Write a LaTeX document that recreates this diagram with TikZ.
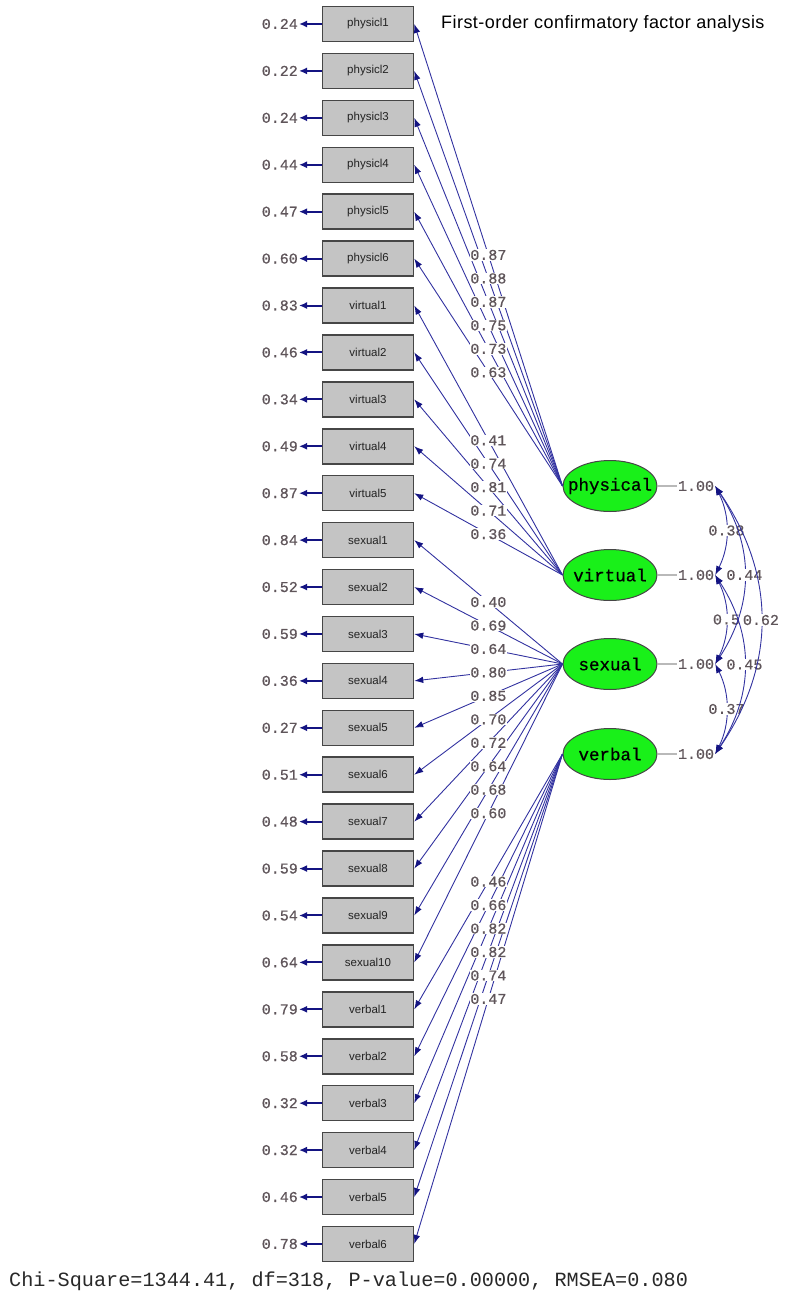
\documentclass[tikz,border=0pt]{standalone}
\usepackage{fontspec}
\setmainfont{Liberation Sans}
\newfontfamily\monof{Liberation Mono}
\newfontfamily\numf[FakeBold=0.6]{Liberation Mono}
\newfontfamily\titlef[LetterSpace=2.5]{Liberation Sans}
\usetikzlibrary{arrows.meta,shapes.geometric}
\definecolor{navy}{RGB}{20,20,130}
\definecolor{lineblue}{RGB}{50,50,160}
\definecolor{numcol}{RGB}{95,85,90}
\definecolor{boxgray}{RGB}{196,196,196}
\definecolor{boxedge}{RGB}{70,70,70}
\definecolor{latgreen}{RGB}{25,240,25}
\definecolor{chicol}{RGB}{40,40,40}
\definecolor{boxtext}{RGB}{35,35,35}
\newcommand{\zbox}[1]{\makebox[0pt]{#1}}
\begin{document}
\begin{tikzpicture}[x=1pt,y=-1pt,
  obs/.style={draw=boxedge, line width=1.5pt, fill=boxgray, minimum width=91pt, minimum height=35pt, inner sep=0pt, text=boxtext, font=\fontsize{11.5}{12}\selectfont},
  lat/.style={ellipse, draw=boxedge, line width=1pt, fill=latgreen, minimum width=94pt, minimum height=51pt, inner sep=0pt, font=\numf\fontsize{17.5}{18}\selectfont},
  num/.style={text=numcol, font=\numf\fontsize{15}{15}\selectfont, inner sep=1pt},
  lab/.style={num, fill=white, inner sep=0.6pt},
  load/.style={draw=lineblue, line width=0.9pt, -{Latex[length=9pt,width=6.5pt,color=navy]}},
  err/.style={draw=navy, line width=2pt, -{Latex[length=8pt,width=7pt]}},
  cov/.style={draw=lineblue, line width=0.9pt, {Latex[length=9pt,width=6.5pt,color=navy]}-{Latex[length=9pt,width=6.5pt,color=navy]}},
  vline/.style={draw=gray!55, line width=1.3pt}]
\useasboundingbox (0,0) rectangle (796,1313);

% latent variables
\node[lat] (F1) at (610,486) {\zbox{physical}};
\node[lat] (F2) at (610,575) {\zbox{virtual}};
\node[lat] (F3) at (610,664) {\zbox{sexual}};
\node[lat] (F4) at (610,754) {\zbox{verbal}};

% variance labels
\foreach \k/\y in {1/486,2/575,3/664,4/754}{
  \node[num] (u\k) at (696,\y) {1.00};
  \draw[vline] (F\k.east) -- (u\k.west);
}

% observed variables, errors and loadings
\foreach \i/\t/\e/\f in {
  0/physicl1/0.24/F1, 1/physicl2/0.22/F1, 2/physicl3/0.24/F1, 3/physicl4/0.44/F1, 4/physicl5/0.47/F1, 5/physicl6/0.60/F1,
  6/virtual1/0.83/F2, 7/virtual2/0.46/F2, 8/virtual3/0.34/F2, 9/virtual4/0.49/F2, 10/virtual5/0.87/F2,
  11/sexual1/0.84/F3, 12/sexual2/0.52/F3, 13/sexual3/0.59/F3, 14/sexual4/0.36/F3, 15/sexual5/0.27/F3,
  16/sexual6/0.51/F3, 17/sexual7/0.48/F3, 18/sexual8/0.59/F3, 19/sexual9/0.54/F3, 20/sexual10/0.64/F3,
  21/verbal1/0.79/F4, 22/verbal2/0.58/F4, 23/verbal3/0.32/F4, 24/verbal4/0.32/F4, 25/verbal5/0.46/F4, 26/verbal6/0.78/F4}{
  \node[obs] (o\i) at (368,{24+46.92*\i}) {\t};
  \node[num, anchor=east] (e\i) at (299,{24+46.92*\i}) {\e};
  \draw[err] (o\i.west) -- (e\i.east);
  \draw[load] (\f.west) -- (o\i.east);
}

% loading labels
\foreach \i/\f/\l in {
  0/F1/0.87, 1/F1/0.88, 2/F1/0.87, 3/F1/0.75, 4/F1/0.73, 5/F1/0.63,
  6/F2/0.41, 7/F2/0.74, 8/F2/0.81, 9/F2/0.71, 10/F2/0.36,
  11/F3/0.40, 12/F3/0.69, 13/F3/0.64, 14/F3/0.80, 15/F3/0.85, 16/F3/0.70, 17/F3/0.72, 18/F3/0.64, 19/F3/0.68, 20/F3/0.60,
  21/F4/0.46, 22/F4/0.66, 23/F4/0.82, 24/F4/0.82, 25/F4/0.74, 26/F4/0.47}{
  \path (\f.west) -- node[lab,pos=0.5] {\l} (o\i.east);
}

% covariances
\draw[cov] (u1.east) .. controls +(15,30) and +(15,-30) .. (u2.east) node[lab,pos=0.5] {0.38};
\draw[cov] (u3.east) .. controls +(15,30) and +(15,-30) .. (u4.east) node[lab,pos=0.5] {0.37};
\draw[cov] (u2.east) .. controls +(15,30) and +(15,-30) .. (u3.east) node[lab,pos=0.5] {0.5};
\draw[cov] (u1.east) .. controls +(39,60) and +(39,-60) .. (u3.east) node[lab,pos=0.5] {0.44};
\draw[cov] (u2.east) .. controls +(39,60) and +(39,-60) .. (u4.east) node[lab,pos=0.5] {0.45};
\draw[cov] (u1.east) .. controls +(61,89) and +(61,-89) .. (u4.east) node[lab,pos=0.5] {0.62};

% texts
\node[anchor=west, font=\titlef\fontsize{18}{20}\selectfont, inner sep=0pt] (title) at (441,24) {First-order confirmatory factor analysis};
\node[anchor=west, text=chicol, font=\monof\fontsize{20.2}{21}\selectfont, inner sep=0pt] (chi) at (9,1281) {Chi-Square=1344.41, df=318, P-value=0.00000, RMSEA=0.080};
\end{tikzpicture}
\end{document}
